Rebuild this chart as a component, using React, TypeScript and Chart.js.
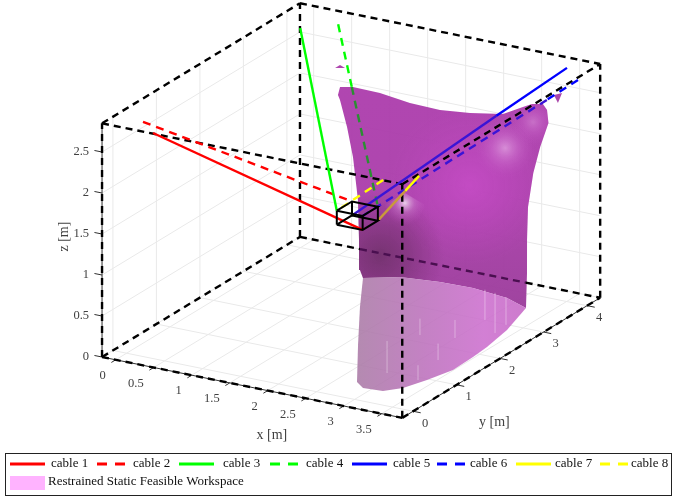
import React, { useEffect, useRef } from "react";
import { Chart, registerables } from "chart.js";

Chart.register(...registerables);

type P3 = [number, number, number];

// Axis limits and ticks (metres)
const xLim = [-0.18, 3.77];
const yLim = [-0.25, 4.3];
const zLim = [0, 2.85];
const xTicks = [0, 0.5, 1, 1.5, 2, 2.5, 3, 3.5];
const yTicks = [0, 1, 2, 3, 4];
const zTicks = [0, 0.5, 1, 1.5, 2, 2.5];

// Cable platform
const platformX = [1.85, 2.19];
const platformY = [1.6, 1.95];
const platformZ = [1.4, 1.57];

// Cables: anchor -> (optional surface crossing) -> platform attachment
const cable1: P3[] = [[0, 0.607, 2.49], [2.19, 1.6, 1.4]];
const cable2: P3[] = [[0, 0.377, 2.7], [1.85, 1.95, 1.57]];
const cable3: P3[] = [[0, 3.99, 2.68], [1.85, 1.6, 1.57]];
const cable4: P3[] = [[0.5, 3.99, 2.82], [1.08, 3.29, 2.39], [2.19, 1.95, 1.57]];
const cable5: P3[] = [[3.505, 4, 2.85], [2.96, 3.33, 2.38], [1.85, 1.95, 1.4]];
const cable6: P3[] = [[3.65, 4, 2.73], [3.44, 3.65, 2.56], [2.19, 1.6, 1.57]];
const cable7: P3[] = [[2.67, 2.06, 2.0], [2.51, 2.02, 1.8], [2.19, 1.95, 1.4]];
const cable8: P3[] = [[2.38, 1.74, 2.0], [1.85, 1.6, 1.57]];

// Workspace surface outlines
const wsTopRim: P3[] = [
  [1.087, 2.96, 2.4], [0.977, 3.199, 2.4], [1.105, 3.274, 2.4], [1.469, 3.258, 2.4],
  [1.927, 3.147, 2.4], [2.337, 3.121, 2.4], [2.682, 3.208, 2.4], [3.024, 3.37, 2.4],
  [3.107, 3.684, 2.4], [3.147, 3.821, 2.4], [3.255, 3.884, 2.4], [3.393, 3.737, 2.4],
];
const wsRightEdge: P3[] = [
  [3.41, 3.74, 2.243], [3.33, 3.69, 1.952], [3.265, 3.645, 1.636],
  [3.215, 3.611, 1.224], [3.209, 3.599, 0.824], [3.212, 3.593, 0.424],
];
const wsFloorFront: P3[] = [
  [2.741, 0.508, 0], [2.898, 0.372, 0], [3.143, 0.402, 0], [3.292, 0.602, 0], [3.399, 0.967, 0],
  [3.493, 1.401, 0], [3.479, 1.885, 0], [3.454, 2.25, 0], [3.375, 2.848, 0], [3.205, 3.582, 0],
];
const wsFloorBack: P3[] = [
  [2.855, 3.757, 0], [2.357, 3.844, 0], [1.934, 3.825, 0], [1.458, 3.737, 0], [1.11, 3.495, 0],
];
const wsFloorLeft: P3[] = [[1.551, 2.655, 0], [2.15, 1.564, 0]];
const wsLeftEdge: P3[] = [
  [2.198, 1.525, 0.936], [2.034, 1.789, 1.187], [1.821, 2.137, 1.522],
  [1.55, 2.496, 1.881], [1.339, 2.728, 2.132], [1.133, 2.926, 2.358],
];
const wsBump: P3[] = [
  [2.406, 1.737, 1.7], [2.408, 2.193, 1.7], [2.8, 1.967, 1.7], [3.076, 1.256, 1.7], [2.849, 1.124, 1.7],
];
const wsFragmentA: P3[] = [[0.886, 3.244, 2.6], [0.886, 3.358, 2.6], [0.984, 3.302, 2.6]];
const wsFragmentB: P3[] = [[3.351, 3.97, 2.5], [3.398, 4.073, 2.5], [3.52, 3.766, 2.5]];

// Shading centres on the surface
const shadeBright: P3 = [2.919, 2.794, 1.7];
const shadeCrest: P3 = [3.197, 3.114, 2.1];
const shadeRidge: P3 = [3.317, 3.548, 2.3];
const shadeDark: P3 = [2.237, 1.918, 1];
const shadeBump: P3 = [2.57, 1.909, 1.7];

// Mesh seams visible on the lower surface: x, y, z extent
const seams: P3[] = [
  [2.891, 0.936, 0.39], [2.598, 2.205, 0.2], [3.183, 1.599, 0.2], [2.992, 2.322, 0.22],
  [2.995, 3.005, 0.37], [3.306, 2.694, 0.49], [3.284, 2.984, 0.34], [3.31, 0.916, 0.18],
];

const legendRow1 = ["cable 1", "cable 2", "cable 3", "cable 4", "cable 5", "cable 6", "cable 7", "cable 8"];
const legendPatchLabel = "Restrained Static Feasible Workspace";
const xTitle = "x [m]";
const yTitle = "y [m]";
const zTitle = "z [m]";

const RED = "#ff0000";
const GREEN = "#00ff00";
const BLUE = "#0000ff";
const YELLOW = "#ffff00";
const FONT = '"Liberation Serif", "Times New Roman", serif';
const TICK = "#404040";

// Orthographic view of the 3-D axes
const project = ([x, y, z]: P3) => ({
  x: 126.6 + 76 * x + 43.5 * y,
  y: 353.2 + 15.4 * x - 26.4 * y - 82 * z,
});

export default function App() {
  const ref = useRef<HTMLCanvasElement>(null);
  useEffect(() => {
    const canvas = ref.current!;
    const g = canvas.getContext("2d")!;
    const [x0, x1] = xLim, [y0, y1] = yLim, [z0, z1] = zLim;
    const ds: any[] = [];
    const line = (pts: P3[], color: string, width: number, dash: number[] = [], segColors?: string[]) => {
      const d: any = {
        data: pts.map(project), showLine: true, pointRadius: 0, borderColor: color,
        borderWidth: width, borderDash: dash, fill: false, clip: false, borderCapStyle: "butt",
      };
      if (segColors) d.segment = { borderColor: (c: any) => segColors[c.p0DataIndex] };
      ds.push(d);
    };
    const patch = (pts: P3[], fillStyle: any) => {
      ds.push({
        data: pts.map(project), showLine: true, pointRadius: 0, borderWidth: 0,
        borderColor: "rgba(0,0,0,0)", backgroundColor: fillStyle, fill: "shape", clip: false,
      });
    };
    const radial = (c: P3, r: number, inner: string, mid: string, outer: string) => {
      const p = project(c);
      const gr = g.createRadialGradient(p.x, p.y, 0, p.x, p.y, r);
      gr.addColorStop(0, inner); gr.addColorStop(0.45, mid); gr.addColorStop(1, outer);
      return gr;
    };

    // Grid
    const GRID = "#e9e9e9";
    xTicks.forEach((x) => line([[x, y0, 0], [x, y1, 0], [x, y1, z1]], GRID, 1));
    yTicks.forEach((y) => line([[x1, y, 0], [x0, y, 0], [x0, y, z1]], GRID, 1));
    zTicks.forEach((z) => line([[x1, y1, z], [x0, y1, z], [x0, y0, z]], GRID, 1));

    const dash = [7, 5];
    const W = 2.4;
    // Box edges behind the surface
    line([[x0, y0, z0], [x0, y1, z0]], "#000", W, dash);
    line([[x0, y1, z0], [x0, y1, z1]], "#000", W, dash);
    line([[x0, y0, z1], [x0, y1, z1]], "#000", W, dash);
    line([[x0, y1, z1], [x1, y1, z1]], "#000", W, dash);

    // Workspace surface
    const bodyOutline: P3[] = [...wsTopRim, ...wsRightEdge, wsFloorFront[9], ...wsFloorBack, ...wsLeftEdge];
    const bodyGrad = g.createLinearGradient(0, 87, 0, 308);
    bodyGrad.addColorStop(0, "rgba(172,60,172,0.95)");
    bodyGrad.addColorStop(0.5, "rgba(170,60,170,0.95)");
    bodyGrad.addColorStop(1, "rgba(154,58,154,0.95)");
    patch(bodyOutline, bodyGrad);
    patch(bodyOutline, radial(shadeBright, 80, "rgba(204,78,204,0.7)", "rgba(200,74,200,0.4)", "rgba(190,70,190,0)"));
    patch(bodyOutline, radial(shadeDark, 65, "rgba(60,30,50,0.46)", "rgba(70,30,60,0.3)", "rgba(90,30,80,0)"));
    patch(bodyOutline, radial(shadeCrest, 30, "rgba(226,165,226,0.75)", "rgba(210,120,210,0.42)", "rgba(190,80,190,0)"));
    patch(bodyOutline, radial(shadeRidge, 24, "rgba(216,140,216,0.6)", "rgba(205,105,205,0.35)", "rgba(190,80,190,0)"));
    patch(wsBump, radial(shadeBump, 22, "rgba(240,222,240,0.9)", "rgba(205,125,205,0.45)", "rgba(190,80,190,0)"));
    // The back floor edge shows through the surface
    line([[x0, y1, z0], [0.61, y1, z0], [2.79, y1, z0], [x1, y1, z0]], "#000", W, dash, ["#000", "#4a0f50", "#000"]);

    const floorGrad = g.createLinearGradient(358, 0, 526, 0);
    floorGrad.addColorStop(0, "rgba(170,122,166,0.88)");
    floorGrad.addColorStop(0.4, "rgba(188,112,188,0.88)");
    floorGrad.addColorStop(0.75, "rgba(204,110,206,0.88)");
    floorGrad.addColorStop(1, "rgba(198,104,198,0.88)");
    patch([...wsFloorFront, ...wsFloorBack, ...wsFloorLeft], floorGrad);
    patch(wsFragmentA, "rgba(170,60,170,0.95)");
    patch(wsFragmentB, "rgba(165,60,165,0.95)");
    seams.forEach(([x, y, h]) => line([[x, y, 0], [x, y, h]], "rgba(255,255,255,0.35)", 1));

    // Axis rulers and ticks
    const AX = "#303030";
    line([[x0, y0, z0], [x1, y0, z0]], AX, 1);
    line([[x1, y0, z0], [x1, y1, z0]], AX, 1);
    line([[x0, y0, z0], [x0, y0, z1]], AX, 1);
    xTicks.forEach((x) => line([[x, y0, 0], [x, y0 - 0.1, 0]], AX, 1));
    yTicks.forEach((y) => line([[x1, y, 0], [x1 + 0.1, y, 0]], AX, 1));
    zTicks.forEach((z) => line([[x0, y0, z], [x0 - 0.1, y0, z]], AX, 1));

    // Box edges in front
    line([[x0, y0, z0], [x1, y0, z0]], "#000", W, dash);
    line([[x1, y0, z0], [x1, y1, z0]], "#000", W, dash);
    line([[x0, y0, z0], [x0, y0, z1]], "#000", W, dash);
    line([[x0, y0, z1], [x1, y0, z1]], "#000", W, dash);
    line([[x1, y0, z0], [x1, y0, z1]], "#000", W, dash);
    line([[x1, y1, z0], [x1, y1, z1]], "#000", W, dash);
    line([[x1, y0, z1], [x1, y1, z1]], "#000", W, dash);

    // Cables
    const cd = [8, 6];
    line(cable1, RED, W);
    line(cable2, RED, W, cd);
    line(cable3, GREEN, W);
    line(cable4, GREEN, W, cd, [GREEN, "#2a8f32"]);
    line(cable5, BLUE, W, [], [BLUE, "#3a14d6"]);
    line(cable6, BLUE, W, cd, [BLUE, "#3a14d6"]);
    line(cable7, YELLOW, W, [], [YELLOW, "#c99a3c"]);
    line(cable8, YELLOW, W, cd);

    // Platform wire frame
    const [pa, pb] = platformX, [qa, qb] = platformY, [ra, rb] = platformZ;
    const ring = (z: number): P3[] => [[pa, qa, z], [pb, qa, z], [pb, qb, z], [pa, qb, z], [pa, qa, z]];
    line(ring(ra), "#000", 2);
    line(ring(rb), "#000", 2);
    [[pa, qa], [pb, qa], [pb, qb], [pa, qb]].forEach(([p, q]) => line([[p, q, ra], [p, q, rb]], "#000", 2));

    ds.forEach((d, i) => { d.order = ds.length - i; });

    const labelsPlugin = {
      id: "labels3d",
      afterDraw(chart: any) {
        const c = chart.ctx as CanvasRenderingContext2D;
        c.save();
        c.fillStyle = TICK;
        c.font = `12.5px ${FONT}`;
        c.textBaseline = "middle";
        c.textAlign = "right";
        xTicks.forEach((x) => {
          const p = project([x, y0, 0]);
          c.fillText(String(x), p.x - 10, p.y + 16);
        });
        zTicks.forEach((z) => {
          const p = project([x0, y0, z]);
          c.fillText(String(z), p.x - 13, p.y);
        });
        c.textAlign = "left";
        yTicks.forEach((y) => {
          const p = project([x1, y, 0]);
          c.fillText(String(y), p.x + 9, p.y + 12);
        });
        c.font = `14px ${FONT}`;
        c.textAlign = "center";
        const xt = project([1.95, y0, 0]);
        c.fillText(xTitle, xt.x + 8, xt.y + 45);
        const yt = project([x1, 1.8, 0]);
        c.fillText(yTitle, yt.x + 3, yt.y + 59);
        const zt = project([x0, y0, 1.42]);
        c.save();
        c.translate(zt.x - 38, zt.y - 4);
        c.rotate(-Math.PI / 2);
        c.fillText(zTitle, 0, 0);
        c.restore();

        // Legend
        c.strokeStyle = "#222";
        c.lineWidth = 1;
        c.fillStyle = "#fff";
        c.fillRect(5.5, 453.5, 666, 42);
        c.strokeRect(5.5, 453.5, 666, 42);
        const colors = [RED, RED, GREEN, GREEN, BLUE, BLUE, YELLOW, YELLOW];
        const sampleX = [10, 97, 179, 270, 352, 437, 516, 600];
        const textX = [51, 133, 223, 306, 393, 470, 555, 631];
        c.font = `13px ${FONT}`;
        c.textAlign = "left";
        legendRow1.forEach((t, i) => {
          c.strokeStyle = colors[i];
          c.lineWidth = 3;
          c.setLineDash(i % 2 ? [10, 8] : []);
          c.beginPath();
          c.moveTo(sampleX[i], 464);
          c.lineTo(sampleX[i] + (i % 2 ? 28 : 35), 464);
          c.stroke();
          c.fillStyle = "#111";
          c.fillText(t, textX[i], 464);
        });
        c.setLineDash([]);
        c.fillStyle = "#ffb3ff";
        c.fillRect(10, 476, 35, 14);
        c.fillStyle = "#111";
        c.fillText(legendPatchLabel, 48, 482);
        c.restore();
      },
    };

    const chart = new Chart(canvas, {
      type: "scatter",
      data: { datasets: ds },
      options: {
        animation: false,
        responsive: false,
        layout: { padding: 0 },
        plugins: { legend: { display: false }, tooltip: { enabled: false } },
        scales: {
          x: { type: "linear", display: false, min: 0, max: 673 },
          y: { type: "linear", display: false, min: 0, max: 498, reverse: true },
        },
      },
      plugins: [labelsPlugin],
    } as any);
    return () => chart.destroy();
  }, []);
  return (
    <div style={{ position: "absolute", left: 0, top: 0, width: 673, height: 498, background: "#fff" }}>
      <canvas ref={ref} width={673} height={498} style={{ display: "block" }} />
    </div>
  );
}
